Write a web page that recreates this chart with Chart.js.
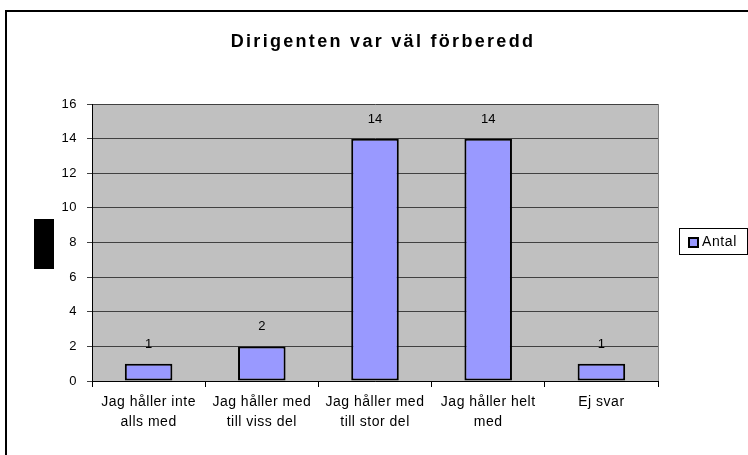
<!DOCTYPE html>
<html>
<head>
<meta charset="utf-8">
<script src="https://cdn.jsdelivr.net/npm/chart.js@4/dist/chart.umd.min.js"></script>
<style>
  body { margin: 0; background: #fff; }
  #wrap { width: 748px; height: 455px; }
</style>
</head>
<body>
<div id="wrap"><canvas id="chart1" width="748" height="455"></canvas></div>
<script>
var categories = [
    ["Jag håller inte", "alls med"],
    ["Jag håller med", "till viss del"],
    ["Jag håller med", "till stor del"],
    ["Jag håller helt", "med"],
    ["Ej svar"]
];
var antal = [1, 2, 14, 14, 1];
var seriesName = "Antal";
var chartTitle = "Dirigenten var väl förberedd";

var FONT = "'Liberation Sans', Arial, sans-serif";

// the old chart spreads its letters a bit; canvas letterSpacing does the same
function spacing(chart) {
    chart.ctx.letterSpacing = '0.5px';
}

// grey plot area, outer frame, title, black box where the axis title was, legend
var excelLook = {
    id: 'excelLook',
    beforeUpdate: spacing,
    beforeLayout: spacing,
    beforeDraw: function (chart) {
        spacing(chart);
        var ctx = chart.ctx, a = chart.chartArea;
        ctx.save();
        ctx.fillStyle = '#fff';
        ctx.fillRect(0, 0, chart.width, chart.height);
        ctx.fillStyle = '#c0c0c0';
        ctx.fillRect(a.left, a.top, a.right - a.left, a.bottom - a.top);
        ctx.restore();
    },
    afterDatasetsDraw: function (chart) {
        var ctx = chart.ctx, a = chart.chartArea;
        ctx.save();
        // plot border on the right
        ctx.strokeStyle = '#808080';
        ctx.lineWidth = 1;
        ctx.beginPath();
        ctx.moveTo(a.right + 0.5, a.top);
        ctx.lineTo(a.right + 0.5, a.bottom);
        ctx.stroke();

        // value labels
        var meta = chart.getDatasetMeta(0);
        ctx.fillStyle = '#000';
        ctx.font = '13px ' + FONT;
        ctx.letterSpacing = '0px';
        ctx.textAlign = 'center';
        ctx.textBaseline = 'alphabetic';
        meta.data.forEach(function (bar, i) {
            ctx.fillText(String(antal[i]), bar.x, bar.y - 16);
        });
        ctx.restore();
    },
    afterDraw: function (chart) {
        var ctx = chart.ctx;
        ctx.save();
        // title
        ctx.fillStyle = '#000';
        ctx.font = 'bold 18px ' + FONT;
        ctx.letterSpacing = '2.3px';
        ctx.textAlign = 'center';
        ctx.textBaseline = 'middle';
        ctx.fillText(chartTitle, 383, 42);
        // outer frame
        ctx.strokeStyle = '#000';
        ctx.lineWidth = 2;
        ctx.strokeRect(6, 11, 760, 460);
        // y-axis title box
        ctx.fillStyle = '#000';
        ctx.fillRect(34, 219, 20, 50);
        // legend
        ctx.fillStyle = '#fff';
        ctx.fillRect(679.5, 228.5, 68, 26);
        ctx.strokeStyle = '#000';
        ctx.lineWidth = 1;
        ctx.strokeRect(679.5, 228.5, 68, 26);
        ctx.fillStyle = '#9999ff';
        ctx.fillRect(689, 238, 9, 9);
        ctx.lineWidth = 2;
        ctx.strokeRect(689, 238, 9, 9);
        ctx.fillStyle = '#000';
        ctx.font = '14px ' + FONT;
        ctx.letterSpacing = '0.6px';
        ctx.textAlign = 'left';
        ctx.textBaseline = 'middle';
        ctx.fillText(seriesName, 702, 242);
        ctx.restore();
    }
};

var chartCanvas1 = document.getElementById('chart1');
var configCanvas1 = {
    type: "bar",
    data: {
        labels: categories,
        datasets: [{
            label: seriesName,
            data: antal,
            backgroundColor: '#9999ff',
            borderColor: '#000',
            borderWidth: 2,
            borderSkipped: false,
            categoryPercentage: 1,
            barPercentage: 0.42
        }]
    },
    options: {
        responsive: false,
        animation: false,
        layout: { padding: { left: 0, right: 90, top: 104, bottom: 0 } },
        plugins: {
            legend: { display: false },
            tooltip: { enabled: false },
            title: { display: false }
        },
        scales: {
            x: {
                afterFit: function (s) { s.height = 74; },
                grid: {
                    display: true,
                    drawOnChartArea: false,
                    color: '#000',
                    tickLength: 6,
                    offset: true
                },
                border: { color: '#000', width: 1 },
                ticks: {
                    color: '#000',
                    padding: 5,
                    maxRotation: 0,
                    autoSkip: false,
                    font: { family: FONT, size: 14, lineHeight: 1.45 }
                }
            },
            y: {
                min: 0,
                max: 16,
                afterFit: function (s) { s.width = 92; },
                grid: {
                    color: '#404040',
                    tickLength: 5,
                    drawTicks: true
                },
                border: { color: '#000', width: 1 },
                ticks: {
                    stepSize: 2,
                    color: '#000',
                    padding: 10,
                    font: { family: FONT, size: 13 }
                }
            }
        }
    },
    plugins: [excelLook]
};

var myChart1 = new Chart(chartCanvas1, configCanvas1);
</script>
</body>
</html>
